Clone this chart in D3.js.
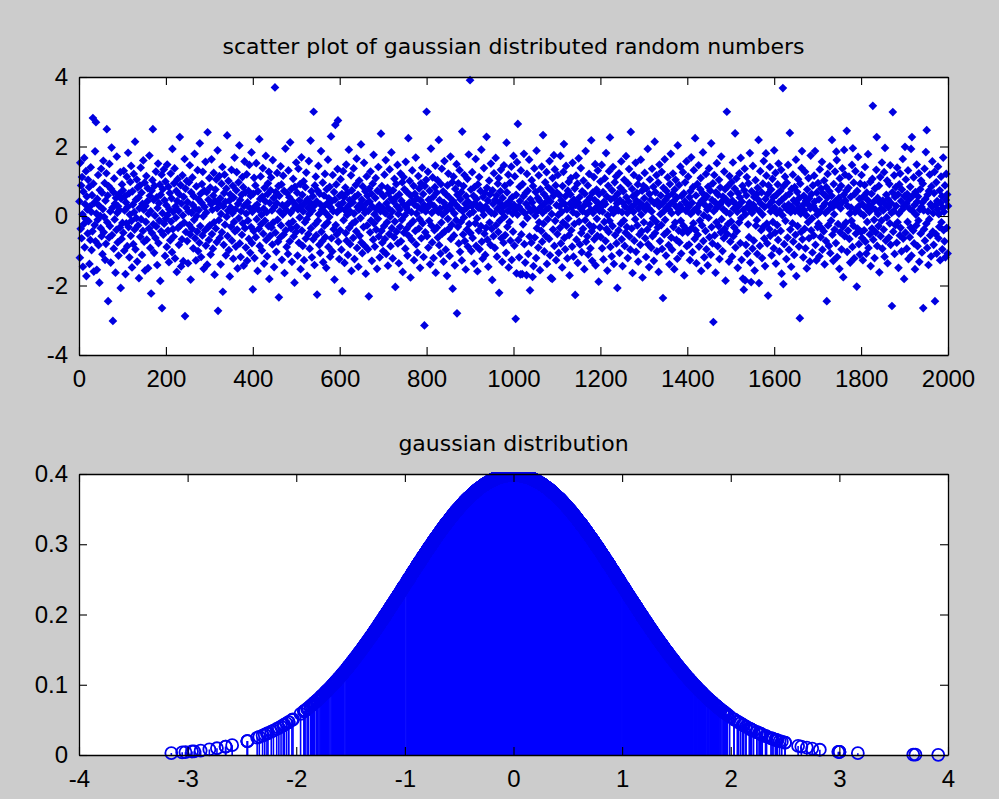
<!DOCTYPE html>
<html>
<head>
<meta charset="utf-8">
<script src="https://cdn.jsdelivr.net/npm/d3@7"></script>
<style>
  html, body { margin: 0; padding: 0; background: #cccccc; }
  svg { display: block; }
</style>
</head>
<body>
<svg id="fig" width="999" height="799"></svg>
<script>
// Gaussian random samples, in draw order (sample number = position + 1)
// samples 1-500
const samplesA = [
  0.42,-1.20,1.53,-0.37,0.88,-0.64,1.12,0.05,-1.46,0.70, -0.23,1.67,-0.90,0.34,-0.08,1.29,-1.73,0.56,0.19,-0.50,
  1.04,-0.15,0.83,-1.38,0.27,-0.69,1.40,0.12,-0.98,0.60, -0.44,2.82,0.93,-1.60,0.38,-0.26,1.86,-0.73,2.70,0.07,
  -1.55,0.49,-0.11,1.18,-0.84,0.30,-1.92,0.75,0.00,-0.35, 1.36,-0.58,0.67,-1.10,0.20,1.59,-0.47,-0.03,0.95,-1.26,
  0.44,-0.80,1.23,2.50,-0.18,0.59,-2.45,0.86,-0.62,1.50, -0.29,0.13,-1.34,0.78,1.97,-0.55,0.24,-3.02,0.69,-0.94,
  1.08,-0.10,0.36,-1.63,0.52,-0.40,1.71,0.09,-0.76,0.28, -1.14,0.63,0.17,-0.33,1.26,-2.07,0.50,-0.66,0.91,-0.20,
  0.74,-0.48,1.30,-1.00,0.16,0.57,-1.67,0.39,-0.21,1.13, -0.87,0.26,1.82,-0.32,0.65,-1.19,0.04,0.98,-0.57,1.44,
  -0.14,-1.48,0.71,0.33,-0.81,1.21,0.11,-0.39,2.14,-0.96, 0.47,-0.06,1.05,-1.31,0.82,-0.27,0.53,-1.79,0.22,0.88,
  -0.60,1.39,-0.09,0.67,-1.12,0.35,-0.43,1.60,0.18,-0.74, 0.96,-1.57,0.29,-0.17,1.15,-0.68,0.42,0.80,-1.50,0.06,
  -0.36,1.74,0.58,-0.92,0.14,-2.23,0.73,-0.49,1.03,2.50, -0.24,0.46,-1.06,0.87,0.01,-0.63,1.28,-0.30,0.54,-1.41,
  0.23,1.51,-0.78,0.37,-0.13,0.90,-1.87,0.61,-0.44,1.19, -2.65,0.08,0.77,-0.54,1.34,-0.22,0.45,-1.15,0.99,-0.07,
  0.31,-0.89,1.48,0.03,-0.42,0.84,-1.33,0.19,0.66,-0.70, 1.22,-0.16,0.51,-1.04,1.93,-0.38,0.12,-0.59,0.94,1.37,
  -1.22,0.27,-0.05,0.72,-1.61,0.43,1.06,-0.34,0.15,-0.83, 0.62,2.27,-0.28,0.89,-1.45,0.36,-0.67,1.17,0.02,-1.30,
  0.55,-0.19,1.64,-2.88,0.79,-0.46,0.24,1.01,-0.72,0.40, -1.36,0.13,0.97,-0.26,1.46,-0.53,-1.83,0.68,0.09,-0.37,
  1.11,0.32,-0.93,0.57,-0.11,1.79,-0.64,0.21,-1.28,0.85, 0.00,-0.45,1.32,-1.01,0.48,0.17,-0.77,2.09,-0.29,0.64,
  -1.18,0.38,0.92,-0.56,1.27,-0.01,-1.52,0.73,0.26,-0.41, 1.56,-0.85,0.10,0.69,-1.40,2.41,-0.33,0.47,-0.69,1.09,
  -0.27,0.82,-1.11,0.34,1.63,-0.52,0.18,-0.94,0.59,1.24, -0.18,-1.69,0.43,0.76,-0.36,1.05,-0.75,0.22,1.89,-2.73,
  0.37,-0.12,1.15,-0.63,0.51,-1.39,0.06,0.93,-0.47,1.41, -2.18,0.28,-0.83,0.66,1.19,-0.25,0.41,-1.13,0.79,-0.02,
  2.32,-0.58,0.15,1.01,-0.98,0.44,-1.74,0.62,0.25,-0.31, 1.33,-0.71,0.08,0.87,-1.23,0.53,-0.17,1.68,-0.44,0.19,
  -0.88,0.74,1.26,-0.39,-1.51,0.35,0.97,-0.06,2.03,-0.79, 0.46,-1.18,0.14,0.61,-0.54,1.12,-0.21,0.83,-1.43,0.29,
  1.57,-0.35,0.68,-0.91,0.07,1.20,-1.29,0.39,-0.13,0.72, -0.66,1.47,0.23,-1.06,0.58,-0.32,1.83,-0.78,0.12,-2.11,
  0.64,-0.43,1.10,-1.21,0.27,0.88,-0.61,1.52,-0.09,0.33, -1.58,0.71,0.18,-0.37,2.21,-0.86,0.49,1.14,-0.24,0.03,
  -0.99,0.56,1.38,-0.51,0.21,-1.37,0.81,-0.14,0.42,1.73, -0.69,0.11,-1.16,0.63,0.94,-0.29,1.27,-1.81,0.38,-0.57,
  0.74,1.11,-0.33,0.16,-0.82,1.61,-0.19,0.52,-1.47,0.26, 3.70,-0.48,0.69,-1.03,0.37,1.24,-0.11,-0.74,0.86,-2.34,
  0.58,0.13,-0.62,1.43,-0.27,0.91,-1.26,0.31,0.04,1.16, -0.53,0.72,-1.64,0.28,1.94,-0.41,0.17,-0.89,0.66,0.35,
  -1.09,1.31,-0.22,0.54,-0.73,2.12,0.09,-0.36,0.78,-1.32, 0.43,-0.16,1.07,-0.59,0.22,-1.92,0.84,0.32,-0.47,1.54
];
// samples 501-1000
const samplesB = [
  -0.31,0.67,-1.14,0.19,1.36,-0.77,0.45,-0.04,0.92,-1.53, 0.28,1.69,-0.42,0.61,-0.86,0.13,1.00,-1.27,0.37,-0.18,
  0.83,-0.65,1.25,-0.09,-1.72,0.48,0.24,-0.52,1.58,0.06, -0.94,0.39,2.17,-0.35,0.71,-1.19,0.16,0.57,-0.67,3.00,
  0.29,-1.41,0.88,-0.23,1.13,-0.56,0.42,-2.26,0.73,-0.14, 1.44,0.05,-0.83,0.64,-1.06,0.33,1.87,-0.45,0.18,-0.72,
  0.96,-1.33,0.27,0.59,-0.28,1.21,-0.61,0.08,-1.49,0.77, 0.36,-0.19,1.62,-0.89,0.51,-0.03,0.84,-1.17,0.25,2.29,
  -0.64,0.43,-1.02,1.18,0.14,-0.38,0.69,-1.83,0.47,2.62, -0.26,0.91,-0.53,0.11,1.35,2.75,-0.74,0.32,-1.24,0.58,
  -0.41,1.06,0.21,-0.97,0.63,-2.16,0.38,1.29,-0.12,0.54, -1.35,0.17,0.82,-0.49,1.48,-0.71,0.03,0.67,-1.12,0.29,
  1.91,-0.34,0.46,-0.81,0.12,1.17,-1.58,0.74,-0.22,0.39, -0.63,1.37,0.07,-1.24,0.55,-0.16,0.89,-0.44,1.65,-0.92,
  0.26,0.61,-1.46,0.18,1.02,-0.57,0.34,-0.06,2.06,-0.76, 0.47,-1.07,0.85,0.23,-0.32,1.53,-0.85,0.09,0.71,-1.66,
  0.36,1.14,-0.27,0.58,-0.96,0.15,-2.31,0.79,0.41,-0.47, 1.28,-0.13,0.64,-1.29,0.27,0.93,-0.68,1.76,-0.21,0.05,
  -0.88,0.52,1.09,-0.39,0.19,-1.52,0.73,-0.08,1.41,-0.59, 0.31,-1.19,0.68,0.14,2.37,-0.43,0.86,-0.77,0.24,-1.01,
  0.57,-0.29,1.19,-0.66,0.08,1.61,-1.09,0.37,-0.18,0.81, -1.43,0.22,0.66,-0.52,1.34,-0.02,-0.87,0.49,1.83,-0.35,
  0.13,-1.22,0.74,0.41,-0.61,1.07,-0.16,-2.04,0.53,0.92, -0.45,0.28,1.47,-0.79,0.06,-1.36,0.62,0.19,-0.31,1.22,
  -0.73,0.44,-0.11,0.97,-1.61,0.34,1.12,-0.48,0.77,0.02, -0.94,1.56,0.25,-0.37,0.69,-1.14,0.16,2.24,-0.57,0.38,
  1.01,-0.24,-1.77,0.58,0.11,-0.69,1.31,0.42,-0.15,0.87, -1.27,0.33,0.64,-0.43,1.68,-0.82,0.07,0.51,-1.05,0.26,
  1.15,-0.36,0.79,-0.09,-1.49,0.45,0.94,-0.64,0.18,1.39, -0.21,0.63,-1.18,0.32,-3.15,0.86,-0.47,0.13,1.04,3.00,
  -0.58,0.24,1.27,-0.91,0.47,-0.14,0.73,-1.39,0.36,1.94, -0.27,0.09,-0.76,1.11,0.55,-1.21,0.29,-0.41,0.83,1.45,
  -1.63,0.18,0.67,-0.33,1.03,-0.62,0.12,2.19,-0.84,0.46, 0.21,-1.08,0.92,-0.19,1.36,-0.51,0.04,0.71,-1.31,0.38,
  1.58,-0.44,0.26,-0.97,0.62,0.15,-1.72,0.88,-0.08,1.22, -0.37,0.54,-1.15,0.31,1.71,-0.66,0.19,-0.25,0.97,-2.09,
  0.43,1.13,-0.56,0.07,-1.42,0.78,0.33,-0.12,1.49,-2.80, 0.61,-0.31,0.94,-0.79,0.22,1.32,-1.03,0.48,-0.17,0.69,
  -1.28,2.43,0.14,-0.53,0.86,-0.04,1.18,-0.72,0.35,-1.54, 0.57,0.23,-0.39,1.07,-0.88,0.41,1.77,-0.23,0.06,3.91,
  -0.49,0.76,-1.01,0.29,1.26,-0.63,0.12,0.58,-1.37,0.83, 0.37,-0.21,1.64,-0.86,0.49,-0.07,-1.59,0.91,0.24,-0.42,
  1.12,-0.96,0.31,0.72,-0.29,1.91,-0.74,0.17,-1.23,0.55, 0.03,1.38,-0.51,0.66,-1.12,0.27,-0.34,2.28,0.81,-0.68,
  0.44,-1.46,0.16,1.02,-0.19,0.62,-0.83,1.51,0.09,-0.37, -1.84,0.74,0.35,-0.58,1.23,0.06,-0.92,0.47,1.67,-0.26,
  0.59,-1.17,0.21,0.93,-0.46,1.09,-2.21,0.38,-0.13,0.71, 1.33,-0.64,0.11,-1.32,0.52,0.26,-0.77,1.46,-0.02,0.87,
  -0.55,0.33,-1.06,2.11,0.68,-0.31,0.15,1.19,-1.48,0.42, -0.17,0.96,-0.71,0.28,1.42,-1.26,0.54,0.07,-0.45,1.73
];
// samples 1001-1500
const samplesC = [
  0.32,-0.85,1.14,0.19,-2.96,0.61,-1.65,1.55,0.04,2.65, -0.69,0.27,-1.19,0.84,0.43,-1.68,1.31,-0.53,0.16,-1.67,
  0.92,-0.24,0.57,1.79,-0.81,0.08,-1.34,0.66,0.35,-1.70, 1.21,-0.06,0.73,-1.09,0.24,1.62,-0.59,-2.14,0.48,0.13,
  -0.77,1.03,0.39,-1.75,0.86,-1.44,0.21,1.37,-0.62,0.01, 0.69,-1.21,1.88,-0.35,0.14,0.52,-0.91,1.17,-0.18,0.44,
  -1.56,0.77,0.26,-0.43,1.42,-0.74,0.09,2.33,-0.22,0.63, -1.02,0.36,0.97,-0.57,0.18,1.26,-1.38,0.51,-0.09,0.82,
  0.23,-0.66,1.58,-1.13,0.42,-1.78,0.74,0.06,-1.81,1.09, -0.39,0.58,1.75,-0.86,1.34,-0.14,0.88,-1.27,0.31,0.67,
  -0.52,1.18,0.03,-1.06,0.61,0.28,-0.34,1.73,-0.79,0.45, 0.12,-1.48,0.86,-0.19,1.27,2.07,-0.63,0.34,-0.96,0.57,
  1.44,-0.28,0.19,-1.22,0.73,-0.07,0.98,-0.55,-1.71,0.36, 0.62,1.09,-0.41,0.25,-0.88,1.53,0.11,-1.17,0.47,-0.23,
  0.79,-2.27,0.32,1.16,-0.68,0.05,0.93,-1.35,0.38,1.66, -0.16,0.54,-0.82,0.22,1.38,-0.49,-1.04,0.71,0.14,-0.37,
  1.02,0.29,-1.53,0.64,-0.12,1.87,-0.74,0.41,0.07,-0.59, 0.88,-1.11,0.35,1.21,-0.26,0.53,-0.93,0.18,2.18,-0.44,
  -1.29,0.67,0.09,-0.31,1.12,-0.67,0.46,1.49,-1.42,0.24, 0.76,-0.08,-0.57,1.31,0.37,-1.89,0.63,0.15,-0.33,0.99,
  -0.61,0.27,1.47,-0.93,0.13,0.69,-1.25,0.41,-0.17,1.08, 0.34,-0.72,1.81,-0.38,0.56,-1.57,0.02,0.87,-0.46,1.29,
  -0.14,2.26,-0.89,0.48,0.19,-1.16,0.74,-0.29,1.41,0.08, -1.38,0.52,0.97,-0.55,0.23,1.14,-0.79,0.36,-2.07,0.64,
  0.16,-0.41,1.23,-1.06,0.45,0.81,-0.22,1.57,-0.67,0.11, -1.44,0.38,0.71,-0.13,1.04,-0.86,0.27,-0.48,1.72,0.54,
  -0.32,0.09,-1.21,0.93,0.42,1.35,-0.59,0.18,-0.97,2.42, 0.26,-0.36,0.78,-1.64,0.57,0.12,1.18,-0.71,0.33,-0.09,
  1.53,-1.03,0.44,0.66,-0.27,0.91,-1.31,0.21,1.09,-0.53, 0.38,-0.83,1.62,0.04,-0.44,0.73,-1.77,0.29,0.87,-0.18,
  0.51,1.24,-0.64,0.17,-1.18,0.79,0.32,-0.39,1.93,-0.81, 0.22,-1.47,0.63,1.05,-0.24,0.46,-0.91,0.13,1.36,-0.58,
  -0.07,0.84,-1.29,0.37,2.14,-0.49,0.68,-0.16,1.17,-1.02, 0.43,-0.33,0.96,-1.61,0.28,1.48,-0.72,0.05,0.59,-0.26,
  1.27,-0.95,0.36,-2.36,0.81,0.14,-0.53,1.63,-0.11,0.47, -1.14,0.72,0.24,-0.45,1.11,0.57,-0.84,0.19,-1.39,0.92,
  0.35,1.79,-0.62,0.08,-0.97,0.64,1.22,-0.31,0.43,-1.53, 0.76,-0.19,1.04,0.27,-0.69,0.53,-1.23,2.03,0.11,-0.42,
  0.89,-0.76,0.31,1.42,-0.14,-1.08,0.58,0.21,-0.48,1.26, -0.28,0.65,-1.71,0.42,0.97,-0.36,0.15,1.57,-0.87,0.33,
  -0.47,1.13,0.26,-0.82,0.54,-1.27,0.71,0.06,1.69,-0.35, 0.38,-1.04,0.83,-0.21,1.32,0.17,-0.66,2.24,-0.41,0.59,
  -1.36,0.23,0.92,-0.54,0.12,1.46,-0.88,0.35,-0.13,0.77, 1.09,-1.58,0.44,-0.27,0.66,1.83,-0.72,0.02,-1.19,0.49,
  0.31,-0.43,1.21,-0.96,0.57,0.18,-1.42,0.84,-0.05,1.37, -0.61,0.28,0.73,-1.11,2.09,-0.32,0.46,-0.79,0.94,-3.05,
  0.14,1.18,-0.56,0.39,-1.63,0.68,-0.18,1.52,0.25,-0.87, 0.61,-0.29,1.04,-1.24,0.33,0.82,-0.47,1.71,-0.09,0.42,
  -1.01,0.56,0.19,-0.64,1.28,-0.37,0.77,-1.86,0.48,0.11, 3.00,-0.52,0.85,-0.23,0.36,-1.31,1.15,0.07,-0.74,0.63
];
// samples 1501-2000
const samplesD = [
  -0.16,0.97,-1.17,0.44,1.54,-0.58,0.21,-0.33,0.79,2.38, -0.91,0.34,1.08,-0.44,0.12,-1.49,0.66,0.29,-0.19,1.23,
  0.53,-0.78,1.67,-0.06,-1.26,0.41,0.87,-1.80,0.18,-2.12, 0.74,1.36,-1.85,0.05,-0.83,0.59,1.12,-1.08,0.27,-0.24,
  0.94,-0.61,0.38,1.81,-1.34,0.16,-1.90,0.71,0.09,-0.94, 1.44,0.32,-0.71,0.55,-1.57,0.23,1.03,-0.28,0.62,-0.12,
  -1.09,0.81,0.47,2.19,-1.93,0.14,-0.86,1.29,0.36,-0.41, 0.68,-1.21,0.04,0.93,-0.31,1.58,-0.65,0.26,-1.44,0.49,
  1.80,1.16,-0.22,-0.79,0.63,-2.29,0.88,0.31,-0.38,1.41, -0.57,0.13,0.76,-1.13,0.42,1.07,-0.17,0.54,-0.93,1.89,
  0.24,-0.48,1.24,-1.37,0.61,0.08,-0.26,0.91,-0.69,1.51, 0.39,-1.02,0.15,0.72,-0.43,1.33,-1.66,0.47,0.02,3.68,
  -1.96,0.86,-0.81,0.28,1.13,-0.14,0.57,-1.24,0.96,0.19, -0.62,1.47,0.33,-0.97,0.64,2.39,-0.39,0.11,-1.46,0.78,
  0.26,-0.21,1.19,-0.74,0.45,-1.12,0.83,0.14,-0.54,1.62, -1.73,0.37,0.69,-0.29,1.06,0.21,-0.88,0.52,-2.94,0.93,
  0.07,-0.46,1.38,1.87,-0.67,0.31,-1.19,0.58,0.16,-0.37, 1.27,-0.93,0.44,0.02,-1.51,0.76,0.35,-0.18,1.09,-0.64,
  0.51,-1.31,0.22,1.74,-0.41,0.63,-0.07,-1.05,0.88,0.29, -0.56,1.16,0.41,1.87,-0.83,0.18,-1.28,0.67,0.04,-0.32,
  0.95,-0.22,0.48,-1.16,1.34,0.12,-0.61,0.79,-0.35,1.56, -0.97,0.27,0.64,-0.44,1.02,-1.39,0.36,0.09,-0.72,0.83,
  -2.45,0.53,1.21,-0.27,0.17,-0.86,0.71,1.43,-1.07,0.34, -0.13,0.58,2.19,-0.54,0.26,-1.29,0.92,0.05,-0.39,1.28,
  0.43,-0.78,1.85,1.61,-1.18,0.31,-0.23,0.76,0.52,-1.52, 1.08,-0.47,0.22,0.87,-0.96,0.38,1.37,-0.31,-1.76,0.61,
  1.90,-0.58,1.19,0.44,-0.19,0.73,2.45,-1.03,0.29,-0.42, 0.81,1.13,-0.66,0.07,-1.34,0.55,0.24,-0.14,1.47,-0.89,
  1.95,-0.28,0.96,-1.22,0.63,0.11,1.29,-0.51,0.19,-2.03, 0.72,-0.36,1.70,0.27,-0.81,0.49,-1.11,0.93,0.08,-0.46,
  1.18,-0.63,0.34,-1.27,0.56,0.02,-0.41,0.89,1.41,-0.74, 0.23,-1.08,0.67,-0.17,0.46,1.78,-0.92,0.31,0.12,-0.53,
  0.98,-1.44,0.27,0.64,-0.36,1.07,3.17,-0.68,0.41,-0.11, -1.21,0.79,0.18,-0.47,1.33,2.27,-0.86,0.52,0.06,-0.29,
  0.87,-1.62,0.38,1.12,-0.58,0.21,-0.13,1.54,-0.94,0.44, 0.16,-0.39,1.26,-1.17,1.96,0.33,-0.71,0.61,-0.04,1.02,
  -1.36,0.48,0.25,-0.62,0.92,-0.21,1.46,-0.83,0.37,0.09, -2.59,0.68,2.99,-0.45,0.14,1.17,-1.09,0.55,-0.26,0.83,
  0.29,-0.77,1.39,-0.18,0.62,-1.49,0.07,0.91,-0.56,1.22, -0.34,0.43,-1.02,0.76,0.19,1.64,-0.65,0.28,-1.81,0.57,
  1.99,-0.48,1.05,0.36,-0.94,0.63,-0.17,1.31,-1.24,0.47, 0.22,-0.61,0.84,-0.33,1.93,-1.14,2.27,0.15,0.58,-0.42,
  1.11,-0.79,0.32,-1.53,0.69,0.04,-0.27,1.48,0.41,-0.87, 0.56,-0.13,1.23,-1.32,0.18,0.77,-0.51,1.02,0.26,-1.05,
  0.39,0.93,-2.65,0.16,-0.38,1.36,-0.71,0.49,1.84,-0.22, 2.47,-0.92,0.61,0.13,-1.41,0.72,-0.09,1.19,-0.56,0.34,
  -1.16,0.85,0.27,1.57,-0.45,0.08,-0.83,0.66,1.27,-2.45, 0.31,-0.52,0.97,-1.08,0.43,0.19,1.42,-0.64,0.05,-0.31,
  0.74,-1.27,0.38,1.13,-0.18,0.57,-0.96,0.24,1.68,-0.41, 0.12,-0.73,0.88,-1.19,0.46,1.21,-0.34,0.62,-1.08,0.29
];
const samples = samplesA.concat(samplesB, samplesC, samplesD);

// axis tick values
const scatterXTicks = [0, 200, 400, 600, 800, 1000, 1200, 1400, 1600, 1800, 2000];
const scatterYTicks = [-4, -2, 0, 2, 4];
const densityXTicks = [-4, -3, -2, -1, 0, 1, 2, 3, 4];
const densityYTicks = [0, 0.1, 0.2, 0.3, 0.4];

const scatterTitle = "scatter plot of gaussian distributed random numbers";
const densityTitle = "gaussian distribution";

// standard normal density, evaluated at every sample for the stem plot
const normalDensity = v => Math.exp(-v * v / 2) / Math.sqrt(2 * Math.PI);

const W = 999, H = 799;
const LEFT = 79, RIGHT = 948;
const panel1 = { top: 77, bottom: 355 };
const panel2 = { top: 474, bottom: 755 };
const TICK_FONT = "'Liberation Sans', Arial, Helvetica, sans-serif";
const TITLE_FONT = "'DejaVu Sans', Verdana, sans-serif";

const svg = d3.select("#fig");
svg.append("rect").attr("width", W).attr("height", H).attr("fill", "#cccccc");

const xScatter = d3.scaleLinear().domain([0, 2000]).range([LEFT, RIGHT]);
const yScatter = d3.scaleLinear().domain([-4, 4]).range([panel1.bottom, panel1.top]);
const xDensity = d3.scaleLinear().domain([-4, 4]).range([LEFT, RIGHT]);
const yDensity = d3.scaleLinear().domain([0, 0.4]).range([panel2.bottom, panel2.top]);

function plotArea(xs, ys) {
  const [x0, x1] = xs.range();
  const [y0, y1] = ys.range();
  svg.append("rect")
    .attr("x", x0).attr("y", y1)
    .attr("width", x1 - x0).attr("height", y0 - y1)
    .attr("fill", "#ffffff");
}

function styleAxis(sel) {
  sel.select(".domain").attr("stroke", "#000").attr("stroke-width", 1.3);
  sel.selectAll(".tick line").attr("stroke", "#000").attr("stroke-width", 1.1);
  sel.selectAll(".tick text")
    .attr("fill", "#000")
    .attr("font-family", TICK_FONT)
    .attr("font-size", 24);
}

// boxed axes with inward ticks on all four sides, labels on bottom and left
function frame(xs, ys, xTicks, yTicks) {
  const [yb, yt] = ys.range();
  const [xl, xr] = xs.range();
  const fmt = d => String(d);
  svg.append("g").attr("transform", `translate(0,${yb})`)
    .call(d3.axisBottom(xs).tickValues(xTicks).tickFormat(fmt)
      .tickSizeInner(-8).tickSizeOuter(0).tickPadding(15))
    .call(styleAxis);
  svg.append("g").attr("transform", `translate(0,${yt})`)
    .call(d3.axisTop(xs).tickValues(xTicks).tickFormat("")
      .tickSizeInner(-8).tickSizeOuter(0))
    .call(styleAxis);
  svg.append("g").attr("transform", `translate(${xl},0)`)
    .call(d3.axisLeft(ys).tickValues(yTicks).tickFormat(fmt)
      .tickSizeInner(-8).tickSizeOuter(0).tickPadding(11))
    .call(styleAxis);
  svg.append("g").attr("transform", `translate(${xr},0)`)
    .call(d3.axisRight(ys).tickValues(yTicks).tickFormat("")
      .tickSizeInner(-8).tickSizeOuter(0))
    .call(styleAxis);
}

function title(text, xs, ys) {
  const [xl, xr] = xs.range();
  svg.append("text")
    .attr("x", (xl + xr) / 2)
    .attr("y", ys.range()[1] - 23)
    .attr("text-anchor", "middle")
    .attr("font-family", TITLE_FONT)
    .attr("font-size", 22)
    .attr("fill", "#000")
    .text(text);
}

// ---- upper panel: scatter of the samples against their index ----
plotArea(xScatter, yScatter);
const diamond = d3.symbol(d3.symbolSquare, 38);
svg.append("g").selectAll("path")
  .data(samples)
  .join("path")
  .attr("d", diamond)
  .attr("transform", (d, i) => `translate(${xScatter(i + 1)},${yScatter(d)}) rotate(45)`)
  .attr("fill", "#0000e0");
frame(xScatter, yScatter, scatterXTicks, scatterYTicks);
title(scatterTitle, xScatter, yScatter);

// ---- lower panel: stem plot of the normal density at each sample ----
plotArea(xDensity, yDensity);
svg.append("clipPath").attr("id", "densityClip")
  .append("rect")
  .attr("x", 0).attr("y", yDensity.range()[1] - 2)
  .attr("width", W).attr("height", H);
const stems = svg.append("g").attr("clip-path", "url(#densityClip)");
stems.selectAll("line")
  .data(samples)
  .join("line")
  .attr("x1", d => xDensity(d)).attr("x2", d => xDensity(d))
  .attr("y1", yDensity(0))
  .attr("y2", d => yDensity(normalDensity(d)))
  .attr("stroke", "#0000ff")
  .attr("stroke-width", 1.6);
stems.selectAll("circle")
  .data(samples)
  .join("circle")
  .attr("cx", d => xDensity(d))
  .attr("cy", d => yDensity(normalDensity(d)))
  .attr("r", 6)
  .attr("fill", "none")
  .attr("stroke", "#0000f0")
  .attr("stroke-width", 1.8);
frame(xDensity, yDensity, densityXTicks, densityYTicks);
title(densityTitle, xDensity, yDensity);
</script>
</body>
</html>
